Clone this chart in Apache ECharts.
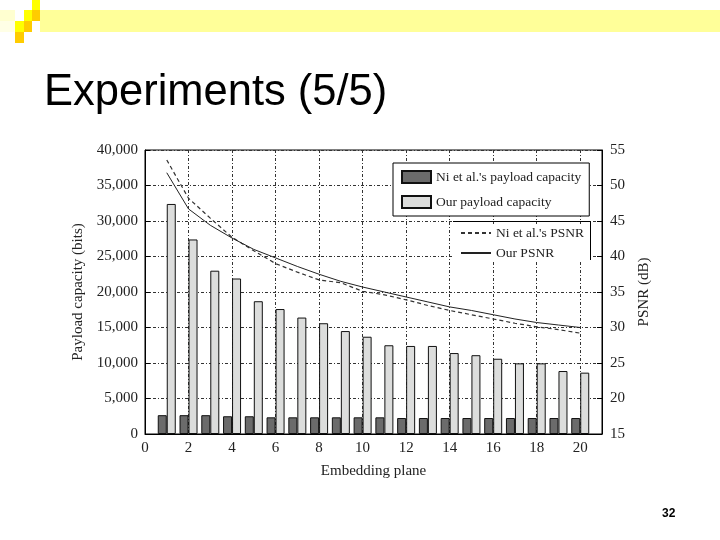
<!DOCTYPE html>
<html>
<head>
<meta charset="utf-8">
<script src="https://cdn.jsdelivr.net/npm/echarts@6/dist/echarts.min.js"></script>
<style>
html,body{margin:0;padding:0;background:#fff;}
#c{width:720px;height:540px;}
</style>
</head>
<body>
<div id="c"></div>
<script>
const planes = [1,2,3,4,5,6,7,8,9,10,11,12,13,14,15,16,17,18,19,20];
const niCapacity = [2650,2650,2650,2500,2500,2350,2350,2350,2350,2350,2350,2250,2250,2250,2250,2250,2250,2250,2250,2250];
const ourCapacity = [32400,27400,23000,21900,18700,17600,16400,15600,14500,13700,12500,12400,12400,11400,11100,10600,9950,9950,8870,8640];
const niPSNR = [53.6,48.2,45.4,42.7,40.8,39.0,37.8,36.7,36.3,35.1,34.6,33.9,33.1,32.4,31.8,31.2,30.6,30.1,29.7,29.2];
const ourPSNR = [51.8,46.7,44.4,42.6,41.0,39.8,38.6,37.5,36.5,35.7,35.0,34.3,33.6,32.9,32.4,31.8,31.2,30.7,30.35,30.0];
const leftTicks = {min:0, max:40000, interval:5000};
const rightTicks = {min:15, max:55, interval:5};
const xTicks = {min:0, max:21, interval:2};

const pair = (xs, ys) => xs.map((x,i)=>[x, ys[i]]);
const serif = 'Liberation Serif';
const txt = '#222';
const gridLine = {show:true, lineStyle:{color:'#333', width:1, type:[3,2,1,2]}};
const noSymbol = {color:'rgba(0,0,0,0)', borderWidth:0, opacity:0};

const chart = echarts.init(document.getElementById('c'));
chart.setOption({
  animation:false,
  backgroundColor:'#fff',
  title:{
    text:'Experiments (5/5)', left:44, top:71, padding:0,
    textStyle:{fontFamily:'Liberation Sans', fontSize:43.5, fontWeight:'normal', color:'#000'}
  },
  graphic:[
    {type:'rect', shape:{x:40,y:10,width:680,height:22}, style:{fill:'#FFFF99'}},
    {type:'rect', shape:{x:0,y:10,width:15,height:11}, style:{fill:'#FFFFD0'}},
    {type:'rect', shape:{x:0,y:21,width:15,height:11}, style:{fill:'#FFFFE6'}},
    {type:'rect', shape:{x:32,y:0,width:8,height:10}, style:{fill:'#FFFF00'}},
    {type:'rect', shape:{x:24,y:10,width:8,height:11}, style:{fill:'#FFFF00'}},
    {type:'rect', shape:{x:32,y:10,width:8,height:11}, style:{fill:'#FFCC00'}},
    {type:'rect', shape:{x:15,y:21,width:9,height:11}, style:{fill:'#FFFF00'}},
    {type:'rect', shape:{x:24,y:21,width:8,height:11}, style:{fill:'#FFCC00'}},
    {type:'rect', shape:{x:15,y:32,width:9,height:11}, style:{fill:'#FFCC00'}},
    {type:'polyline', z:10, shape:{points:[[453,221.5],[590.5,221.5],[590.5,260]]}, style:{stroke:'#000', lineWidth:1, fill:null}},
    {type:'text', left:662, top:508, style:{text:'32', font:'bold 12px "Liberation Sans"', fill:'#000'}}
  ],
  grid:{left:145, right:118, top:150, bottom:106, show:true, borderColor:'#000', borderWidth:1, backgroundColor:'transparent'},
  legend:[
    {
      data:[{name:"Ni et al.'s payload capacity", icon:'rect'},{name:"Our payload capacity", icon:'rect'}],
      orient:'vertical', left:393, top:163, padding:[7,8,7,8], itemGap:11,
      itemWidth:29, itemHeight:12, borderColor:'#000', borderWidth:1, backgroundColor:'#fff',
      textStyle:{fontFamily:serif, fontSize:13.5, color:txt}
    },
    {
      data:[{name:"Ni et al.'s PSNR", itemStyle:noSymbol},{name:"Our PSNR", itemStyle:noSymbol}],
      orient:'vertical', left:454, top:224, padding:[2,6,2,6], itemGap:6,
      itemWidth:30, itemHeight:12, backgroundColor:'#fff',
      textStyle:{fontFamily:serif, fontSize:13.5, color:txt}
    }
  ],
  xAxis:{
    type:'value', min:xTicks.min, max:xTicks.max, interval:xTicks.interval,
    name:'Embedding plane', nameLocation:'middle', nameGap:30,
    nameTextStyle:{fontFamily:serif, fontSize:15, color:txt},
    axisLine:{show:true, lineStyle:{color:'#000'}},
    axisTick:{show:false},
    axisLabel:{fontFamily:serif, fontSize:15, color:txt, margin:7, showMaxLabel:false},
    splitLine:gridLine
  },
  yAxis:[
    {
      type:'value', min:leftTicks.min, max:leftTicks.max, interval:leftTicks.interval,
      name:'Payload capacity (bits)', nameLocation:'middle', nameGap:58,
      nameTextStyle:{fontFamily:serif, fontSize:15, color:txt},
      axisLine:{show:true, lineStyle:{color:'#000'}},
      axisTick:{show:true, inside:true, length:5, lineStyle:{color:'#000'}},
      axisLabel:{fontFamily:serif, fontSize:15, color:txt, margin:7,
        formatter:v=>v.toLocaleString('en-US')},
      splitLine:gridLine
    },
    {
      type:'value', position:'right', min:rightTicks.min, max:rightTicks.max, interval:rightTicks.interval,
      name:'PSNR (dB)', nameLocation:'middle', nameGap:35, nameRotate:90,
      nameTextStyle:{fontFamily:serif, fontSize:15, color:txt},
      axisLine:{show:true, lineStyle:{color:'#000'}},
      axisTick:{show:true, inside:true, length:5, lineStyle:{color:'#000'}},
      axisLabel:{fontFamily:serif, fontSize:15, color:txt, margin:8},
      splitLine:{show:false}
    }
  ],
  series:[
    {
      name:"Ni et al.'s payload capacity", type:'bar', yAxisIndex:0,
      data:pair(planes, niCapacity), barWidth:9, barGap:'0%',
      itemStyle:{color:'#6b6b6b', borderColor:'#111', borderWidth:1}
    },
    {
      name:'Our payload capacity', type:'bar', yAxisIndex:0,
      data:pair(planes, ourCapacity), barWidth:9, barGap:'0%',
      itemStyle:{color:'#dcdddc', borderColor:'#111', borderWidth:1}
    },
    {
      name:"Ni et al.'s PSNR", type:'line', yAxisIndex:1, data:pair(planes, niPSNR),
      symbol:'none', z:3, lineStyle:{color:'#333', width:1.2, type:[4,3]}, itemStyle:{color:'#333'}
    },
    {
      name:'Our PSNR', type:'line', yAxisIndex:1, data:pair(planes, ourPSNR),
      symbol:'none', z:3, lineStyle:{color:'#222', width:1}, itemStyle:{color:'#222'}
    }
  ]
});
</script>
</body>
</html>
